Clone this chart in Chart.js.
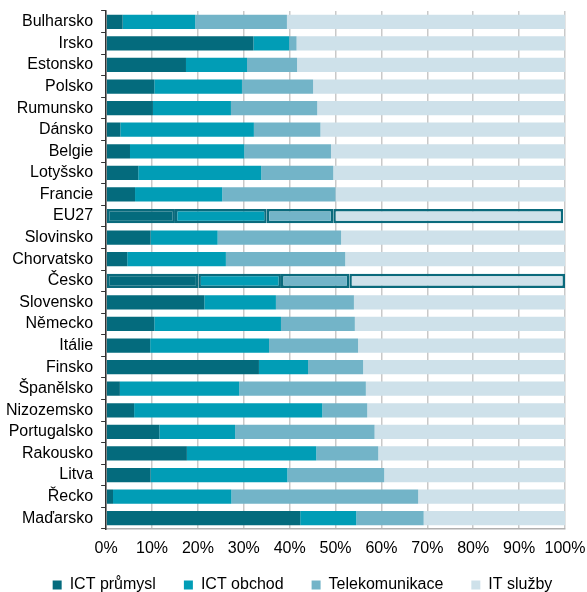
<!DOCTYPE html>
<html>
<head>
<meta charset="utf-8">
<script src="https://cdn.jsdelivr.net/npm/chart.js@4"></script>
<style>
  html, body { margin: 0; padding: 0; background: #fff; }
</style>
</head>
<body>
<canvas id="canvas" width="587" height="592"></canvas>
<script>
const countries = [
  "Bulharsko", "Irsko", "Estonsko", "Polsko", "Rumunsko", "Dánsko", "Belgie",
  "Lotyšsko", "Francie", "EU27", "Slovinsko", "Chorvatsko", "Česko", "Slovensko",
  "Německo", "Itálie", "Finsko", "Španělsko", "Nizozemsko", "Portugalsko",
  "Rakousko", "Litva", "Řecko", "Maďarsko"
];

const ictPrumysl = [3.6, 32.1, 17.4, 10.5, 10.2, 3.1, 5.2, 7.0, 6.3, 15.0, 9.7, 4.6, 20.1, 21.4, 10.5, 9.6, 33.3, 3.0, 6.1, 11.6, 17.6, 9.7, 1.5, 42.3];
const ictObchod = [15.8, 7.8, 13.3, 19.1, 17.0, 29.1, 24.9, 26.8, 19.0, 20.0, 14.6, 21.5, 18.0, 15.6, 27.6, 25.9, 10.7, 26.0, 41.0, 16.5, 28.2, 29.8, 25.8, 12.2];
const telekom = [20.0, 1.6, 10.9, 15.5, 18.8, 14.5, 18.9, 15.7, 24.7, 14.5, 26.9, 26.0, 14.9, 17.0, 16.1, 19.4, 12.0, 27.6, 9.8, 30.4, 13.5, 21.1, 40.7, 14.7];
const itSluzby = [60.6, 58.5, 58.4, 54.9, 54.0, 53.3, 51.0, 50.5, 50.0, 50.1, 48.8, 47.9, 47.0, 46.0, 45.8, 45.1, 44.0, 43.4, 43.1, 41.5, 40.7, 39.4, 32.0, 30.8];

const xTicks = [0, 10, 20, 30, 40, 50, 60, 70, 80, 90, 100];

const highlighted = ["EU27", "Česko"];
const edge = "#0a6a7c";
const fontFamily = "'Liberation Sans', Arial, sans-serif";

const ctx = document.getElementById("canvas").getContext("2d");

const makeSet = (label, data, color) => ({
  label: label,
  data: data,
  backgroundColor: color,
  borderColor: edge,
  borderWidth: (c) => highlighted.includes(countries[c.dataIndex]) ? 2.5 : 0,
  borderSkipped: false,
  barPercentage: 0.66,
  categoryPercentage: 1.0
});

// move the legend a bit closer to the axis labels and a little to the right
const legendNudge = {
  id: "legendNudge",
  afterLayout(chart) {
    const lg = chart.legend;
    if (!lg) return;
    lg.top -= 11;
    lg.bottom -= 11;
    lg.left += 6;
    lg.right += 6;
  }
};

new Chart(ctx, {
  type: "bar",
  data: {
    labels: countries,
    datasets: [
      makeSet("ICT průmysl", ictPrumysl, "#046b7d"),
      makeSet("ICT obchod", ictObchod, "#019db6"),
      makeSet("Telekomunikace", telekom, "#73b4c8"),
      makeSet("IT služby", itSluzby, "#cee1ea")
    ]
  },
  plugins: [legendNudge],
  options: {
    indexAxis: "y",
    responsive: false,
    animation: false,
    layout: { padding: { left: -2, right: -8, top: 0, bottom: -22 } },
    plugins: {
      tooltip: { enabled: false },
      legend: {
        position: "bottom",
        labels: {
          boxWidth: 9,
          boxHeight: 9,
          padding: 28,
          color: "#000",
          font: { family: fontFamily, size: 16 }
        }
      }
    },
    scales: {
      x: {
        stacked: true,
        min: 0,
        max: 100,
        afterBuildTicks: (axis) => { axis.ticks = xTicks.map(v => ({ value: v })); },
        afterFit: (axis) => { axis.height = 31; axis.paddingRight = 22; },
        ticks: {
          callback: (v) => v + "%",
          color: "#000",
          padding: 10,
          font: { family: fontFamily, size: 16 }
        },
        grid: { color: "#c9c9c9", lineWidth: 1.5, drawTicks: false },
        border: { color: "#b0b0b0", width: 1.5 }
      },
      y: {
        stacked: true,
        afterFit: (axis) => { axis.paddingTop = 11; axis.paddingBottom = 0; },
        ticks: {
          autoSkip: false,
          color: "#000",
          padding: 8,
          font: { family: fontFamily, size: 16 }
        },
        grid: { drawOnChartArea: false, drawTicks: true, tickLength: 5, color: "#333" },
        border: { color: "#333", width: 1.5 }
      }
    }
  }
});
</script>
</body>
</html>
